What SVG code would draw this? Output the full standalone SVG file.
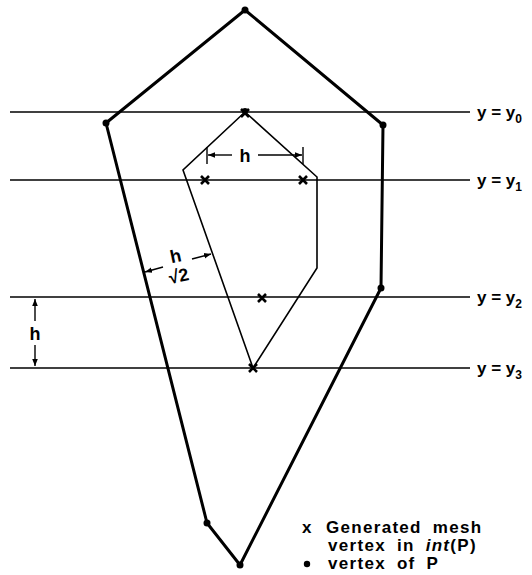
<svg xmlns="http://www.w3.org/2000/svg" width="532" height="575" viewBox="0 0 532 575">
<defs>
<style>
.hl{stroke:#000;stroke-width:1.6;fill:none}
.outer{stroke:#000;stroke-width:3;fill:none;stroke-linejoin:round}
.inner{stroke:#000;stroke-width:1.6;fill:none;stroke-linejoin:miter}
.dim{stroke:#000;stroke-width:1.4;fill:none}
.xm{stroke:#000;stroke-width:2.6;fill:none}
.t{font-family:"Liberation Sans",Arial,sans-serif;font-weight:bold;font-size:18px;fill:#000}
.ty{font-family:"Liberation Sans",Arial,sans-serif;font-weight:bold;font-size:17px;fill:#000}
.ts{font-size:12px}
.lg{font-family:"Liberation Sans",Arial,sans-serif;font-weight:bold;font-size:17px;letter-spacing:1.3px;word-spacing:5px;fill:#000}
</style>
<marker id="ah" viewBox="0 0 10 10" refX="10" refY="5" markerWidth="7" markerHeight="7" orient="auto-start-reverse" markerUnits="userSpaceOnUse">
<path d="M0,1 L10,5 L0,9 Z" fill="#000"/>
</marker>
</defs>
<rect width="532" height="575" fill="#fff"/>
<g id="connectors">
<line class="hl" x1="10" y1="112" x2="470" y2="112"/>
<line class="hl" x1="10" y1="180" x2="470" y2="180"/>
<line class="hl" x1="10" y1="297" x2="470" y2="297"/>
<line class="hl" x1="10" y1="368" x2="470" y2="368"/>
</g>
<g id="polygonP">
<polygon class="outer" points="245,10 383,125 381,288 240,565 207,523 106,123"/>
</g>
<g id="innerPolygon">
<polygon class="inner" points="245,112 317,177 317,268 253,368 183,170"/>
</g>
<g id="vertices">
<circle cx="245" cy="10" r="3.5"/>
<circle cx="106" cy="123" r="3.5"/>
<circle cx="383" cy="125" r="3.5"/>
<circle cx="381" cy="288" r="3.5"/>
<circle cx="207" cy="523" r="3.5"/>
<circle cx="240" cy="565" r="3.5"/>
<circle cx="245" cy="111" r="3"/>
</g>
<g id="meshVertices">
<path class="xm" d="M241,109 l8,8 M249,109 l-8,8"/>
<path class="xm" d="M201,176 l8,8 M209,176 l-8,8"/>
<path class="xm" d="M299,176 l8,8 M307,176 l-8,8"/>
<path class="xm" d="M258,294 l8,8 M266,294 l-8,8"/>
<path class="xm" d="M249,364 l8,8 M257,364 l-8,8"/>
</g>
<g id="dimH1">
<line class="dim" x1="207" y1="147" x2="207" y2="164"/>
<line class="dim" x1="303" y1="147" x2="303" y2="164"/>
<line class="dim" x1="232" y1="155" x2="208" y2="155" marker-end="url(#ah)"/>
<line class="dim" x1="258" y1="155" x2="302" y2="155" marker-end="url(#ah)"/>
<text class="t" x="245" y="162" text-anchor="middle">h</text>
</g>
<g id="dimH2">
<line class="dim" x1="163" y1="267" x2="145" y2="272" marker-end="url(#ah)"/>
<line class="dim" x1="192" y1="259" x2="211" y2="254" marker-end="url(#ah)"/>
<text class="t" x="177" y="262" text-anchor="middle" transform="rotate(-12 177 262)">h</text>
<text class="t" x="180" y="282" text-anchor="middle" transform="rotate(-12 180 282)">√2</text>
</g>
<g id="dimH3">
<line class="dim" x1="35" y1="321" x2="35" y2="299" marker-end="url(#ah)"/>
<line class="dim" x1="35" y1="345" x2="35" y2="366" marker-end="url(#ah)"/>
<text class="t" x="35" y="340" text-anchor="middle">h</text>
</g>
<g id="labels">
<text class="ty" x="477" y="118">y = y<tspan class="ts" dy="5">0</tspan></text>
<text class="ty" x="477" y="186">y = y<tspan class="ts" dy="5">1</tspan></text>
<text class="ty" x="477" y="303">y = y<tspan class="ts" dy="5">2</tspan></text>
<text class="ty" x="477" y="374">y = y<tspan class="ts" dy="5">3</tspan></text>
</g>
<g id="legend">
<text class="lg" x="302" y="533">x</text>
<text class="lg" x="326" y="533">Generated mesh</text>
<text class="lg" x="328" y="551">vertex in <tspan font-style="italic">int</tspan>(P)</text>
<circle cx="307" cy="564" r="3.2"/>
<text class="lg" x="328" y="569">vertex of P</text>
</g>
</svg>
